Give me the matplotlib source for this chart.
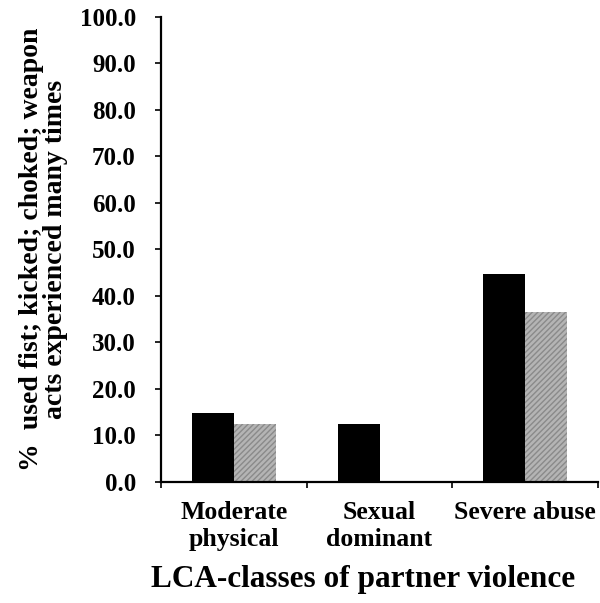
import matplotlib
matplotlib.use("Agg")
import matplotlib.pyplot as plt
import numpy as np

categories = ["Moderate\nphysical", "Sexual\ndominant", "Severe abuse"]
black_values = [14.8, 12.4, 44.8]
grey_values = [12.4, 0.0, 36.6]
y_ticks = [0, 10, 20, 30, 40, 50, 60, 70, 80, 90, 100]

plt.rcParams["font.family"] = ["Liberation Serif", "DejaVu Serif"]
plt.rcParams["font.weight"] = "bold"

fig = plt.figure(figsize=(6.0, 6.03), dpi=100)
ax = fig.add_axes([0.268, 0.2007, 0.729, 0.7713])

x = np.arange(len(categories))
width = 0.288
ax.bar(x - width / 2, black_values, width, color="black", linewidth=0)
ax.bar(x + width / 2, grey_values, width, color="#b4b4b4", edgecolor="#8a8a8a",
       hatch="//////", linewidth=0)

ax.set_xlim(-0.5, len(categories) - 0.5)
ax.set_ylim(0, 100)
ax.set_yticks(y_ticks)
ax.set_yticklabels([f"{v:.1f}" for v in y_ticks], fontsize=18, fontweight="bold")
ax.set_xticks(x)
ax.set_xticklabels(categories, fontsize=18.5, fontweight="bold", linespacing=1.2)
ax.set_xticks(np.arange(len(categories) + 1) - 0.5, minor=True)
ax.tick_params(axis="x", which="major", length=0, pad=14)
ax.tick_params(axis="x", which="minor", length=4, width=1.2, direction="out")
ax.tick_params(axis="y", length=4, width=1.2, direction="out", pad=14)

for side in ("top", "right"):
    ax.spines[side].set_visible(False)
for side in ("left", "bottom"):
    ax.spines[side].set_linewidth(1.6)

ax.set_ylabel("%  used fist; kicked; choked; weapon\nacts experienced many times",
              fontsize=20, fontweight="bold", linespacing=0.95, labelpad=8)
ax.set_xlabel("LCA-classes of partner violence", fontsize=22.5, fontweight="bold")
ax.xaxis.set_label_coords(0.462, -0.178)

fig.savefig("out.png", dpi=100)
